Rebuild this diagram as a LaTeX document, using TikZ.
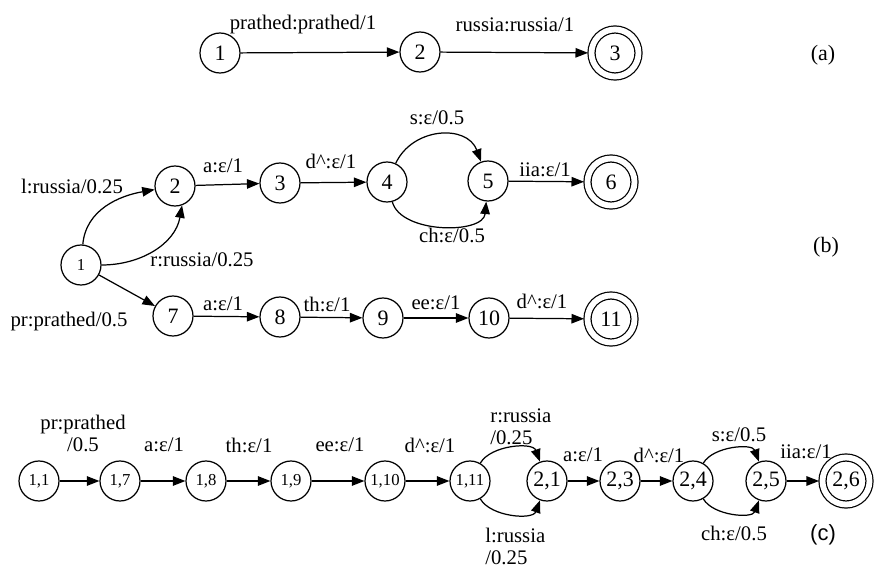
\documentclass[tikz,border=0pt]{standalone}
\usepackage{fontspec}
\setmainfont{Liberation Serif}
\newfontfamily\tagfont{Liberation Sans}
\usetikzlibrary{arrows.meta}

\tikzset{
  state/.style={circle,draw,line width=0.7pt,minimum size=0.8cm,inner sep=0pt,
    font=\fontsize{12.5}{13}\selectfont},
  smallstate/.style={state,font=\fontsize{9.5}{10}\selectfont},
  final/.style={state,double,double distance=3.3pt,minimum size=0.94cm,outer sep=2pt},
  trans/.style={line width=0.7pt,-{Triangle[length=2.5mm,width=1.9mm]}},
  lbl/.style={inner sep=0pt,font=\fontsize{11.8}{12.5}\selectfont},
  tag/.style={inner sep=0pt,font=\fontsize{12.5}{13}\selectfont}
}

\begin{document}
\begin{tikzpicture}[x=0.2mm,y=-0.2mm]
\useasboundingbox (0,0) rectangle (883,568);

% (a)
\node[state] (a1) at (220,53) {1};
\node[state] (a2) at (420,52) {2};
\node[final] (a3) at (615,53) {3};
\draw[trans] (a1) -- (a2);
\draw[trans] (a2) -- (a3);
\node[lbl] (la1) at (303,25) {prathed:prathed/1};
\node[lbl] (la2) at (515,25) {russia:russia/1};
\node[tag] (ta) at (823,55) {(a)};

% (b)
\node[smallstate] (b1) at (81,265) {1};
\node[state] (b2) at (175,186) {2};
\node[state] (b3) at (280,183) {3};
\node[state] (b4) at (387,182) {4};
\node[state] (b5) at (488,181) {5};
\node[final] (b6) at (611,182) {6};
\node[state] (b7) at (173,316) {7};
\node[state] (b8) at (280,317) {8};
\node[state] (b9) at (383,318) {9};
\node[state] (b10) at (489,318) {10};
\node[final] (b11) at (611,319) {11};

\draw[trans] (b1) to[out=85,in=190] (b2);
\draw[trans] (b1) to[out=0,in=-100] (b2.-70);
\draw[trans] (b1) -- (b7);
\draw[trans] (b4) to[out=65,in=110,looseness=1.2] (b5);
\draw[trans] (b4) to[out=-75,in=-95,looseness=0.9] (b5);
\foreach \u/\v in {b2/b3,b3/b4,b5/b6,b7/b8,b8/b9,b9/b10,b10/b11}
  \draw[trans] (\u) -- (\v);

\node[lbl] (lb1) at (72,186) {l:russia/0.25};
\node[lbl] (lb2) at (202,260) {r:russia/0.25};
\node[lbl] (lb3) at (69,322) {pr:prathed/0.5};
\node[lbl] (lb4) at (223,166) {a:ε/1};
\node[lbl] (lb5) at (331,161) {d\textasciicircum:ε/1};
\node[lbl] (lb6) at (437,118) {s:ε/0.5};
\node[lbl] (lb7) at (452,235) {ch:ε/0.5};
\node[lbl] (lb8) at (545,170) {iia:ε/1};
\node[lbl] (lb9) at (223,304) {a:ε/1};
\node[lbl] (lb10) at (327,304) {th:ε/1};
\node[lbl] (lb11) at (436,303) {ee:ε/1};
\node[lbl] (lb12) at (542,301) {d\textasciicircum:ε/1};
\node[tag] (tb) at (826,247) {(b)};

% (c)
\node[smallstate] (c11) at (39,481) {1,1};
\node[smallstate] (c17) at (120,481) {1,7};
\node[smallstate] (c18) at (206,481) {1,8};
\node[smallstate] (c19) at (291,481) {1,9};
\node[smallstate] (c110) at (385,481) {1,10};
\node[smallstate] (c111) at (470,481) {1,11};
\node[state] (c21) at (547,481) {2,1};
\node[state] (c23) at (620,481) {2,3};
\node[state] (c24) at (693,481) {2,4};
\node[state] (c25) at (766,481) {2,5};
\node[final] (c26) at (846,481) {2,6};

\foreach \u/\v in {c11/c17,c17/c18,c18/c19,c19/c110,c110/c111,c21/c23,c23/c24,c25/c26}
  \draw[trans] (\u) -- (\v);
\draw[trans] (c111) to[out=60,in=110,looseness=0.9] (c21);
\draw[trans] (c111) to[out=-60,in=-110,looseness=0.9] (c21);
\draw[trans] (c24) to[out=60,in=110,looseness=0.9] (c25);
\draw[trans] (c24) to[out=-60,in=-110,looseness=0.9] (c25);

\node[lbl,align=center] (lc1) at (83,433) {pr:prathed\\/0.5};
\node[lbl] (lc2) at (164,445) {a:ε/1};
\node[lbl] (lc3) at (249,445) {th:ε/1};
\node[lbl] (lc4) at (340,445) {ee:ε/1};
\node[lbl] (lc5) at (430,445) {d\textasciicircum:ε/1};
\node[lbl,align=left,anchor=west] (lc6) at (490,427) {r:russia\\/0.25};
\node[lbl,align=left,anchor=west] (lc7) at (485,546) {l:russia\\/0.25};
\node[lbl] (lc8) at (583,455) {a:ε/1};
\node[lbl] (lc9) at (659,455) {d\textasciicircum:ε/1};
\node[lbl] (lc10) at (739,435) {s:ε/0.5};
\node[lbl] (lc11) at (806,452) {iia:ε/1};
\node[lbl] (lc12) at (734,533) {ch:ε/0.5};
\node[tag,font=\tagfont\fontsize{12.5}{13}\selectfont] (tc) at (823,535) {(c)};
\end{tikzpicture}
\end{document}
